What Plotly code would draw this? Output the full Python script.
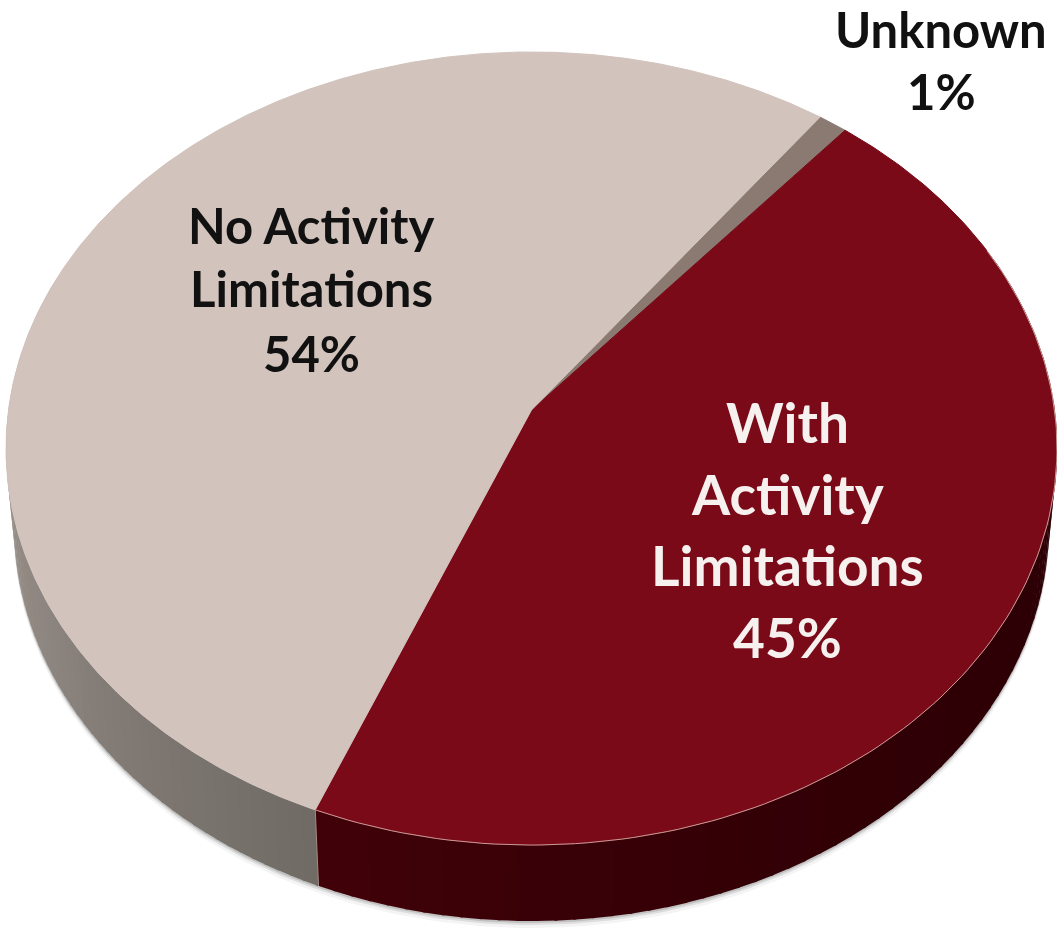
import numpy as np
import plotly.graph_objects as go

categories = ["Unknown", "With Activity Limitations", "No Activity Limitations"]
values = [1, 45, 54]
top_colors = ["#8a7a72", "#7a0a18", "#d2c3bc"]
label_lines = [["Unknown", "1%"], ["With", "Activity", "Limitations", "45%"], ["No Activity", "Limitations", "54%"]]
label_colors = ["#111111", "#f6f0ee", "#111111"]
label_x = [941, 787, 311]
label_y = [[29, 91], [422, 494, 565, 637], [225, 288, 353]]
label_sizes = [49, 55, 49]

APEX = (531.5, 410)
A, B, K = 523, 392.8, 0.0971
START = 36.5
DEPTH = 76
RIM_SCALE = 0.985


def project(theta_deg):
    t = np.radians(theta_deg)
    u, v = np.sin(t), -np.cos(t)
    w = 1 - K * v
    return APEX[0] + A * u / w, APEX[1] + B * v / w


def lower(x, y, extra=0):
    return APEX[0] + (x - APEX[0]) * RIM_SCALE, y + DEPTH + extra


def lerp(c1, c2, f):
    return "rgb(%d,%d,%d)" % tuple(c1[i] + (c2[i] - c1[i]) * f for i in range(3))


fig = go.Figure()

edges = START + np.cumsum([0] + values) * 3.6


def rim_color(i, theta):
    if i == 1:
        f = np.clip((theta - 100) / (edges[2] - 100), 0, 1)
        return lerp((45, 0, 5), (66, 2, 9), f ** 2)
    f = np.clip((theta - edges[2]) / (290 - edges[2]), 0, 1)
    return lerp((112, 107, 101), (175, 163, 157), f)


# soft shadow below the visible rim
th = np.linspace(95, 275, 200)
sx, sy = project(th)
for off, op in [(7, 0.06), (4, 0.12), (2, 0.18)]:
    lx, ly = lower(sx, sy, off)
    fig.add_trace(go.Scatter(
        x=np.r_[lx, sx[::-1]], y=np.r_[ly, sy[::-1]],
        fill="toself", mode="lines", line=dict(width=0), fillcolor=f"rgba(60,60,60,{op})",
        hoverinfo="skip", showlegend=False))

# rim bands, only the front half is visible
for i in (1, 2):
    lo, hi = max(edges[i], 90), min(edges[i + 1], 290)
    steps = np.linspace(lo, hi, 60)
    for a, b in zip(steps[:-1], steps[1:]):
        th = np.linspace(a, b + 0.3, 5)
        x, y = project(th)
        lx, ly = lower(x, y)
        fig.add_trace(go.Scatter(
            x=np.r_[x, lx[::-1]], y=np.r_[y, ly[::-1]],
            fill="toself", mode="lines", line=dict(width=0),
            fillcolor=rim_color(i, (a + b) / 2), hoverinfo="skip", showlegend=False))

# top faces
for i, cat in enumerate(categories):
    th = np.linspace(edges[i], edges[i + 1], max(4, int(values[i] * 8)))
    x, y = project(th)
    fig.add_trace(go.Scatter(
        x=np.r_[APEX[0], x, APEX[0]], y=np.r_[APEX[1], y, APEX[1]],
        fill="toself", mode="lines", line=dict(width=1, color=top_colors[i]),
        fillcolor=top_colors[i], name=cat, showlegend=False))

# pale seam along the maroon front edge and down the slice boundary
th = np.linspace(edges[1] + 25, edges[2], 120)
x, y = project(th)
fig.add_trace(go.Scatter(x=x, y=y, mode="lines", line=dict(width=1, color="#c89a96"),
                         hoverinfo="skip", showlegend=False))
bx, by = project(edges[2])
blx, bly = lower(bx, by)
fig.add_trace(go.Scatter(x=[bx, blx], y=[by, bly], mode="lines",
                         line=dict(width=1, color="#a58a86"), hoverinfo="skip", showlegend=False))

for lines, color, cx, ys, size in zip(label_lines, label_colors, label_x, label_y, label_sizes):
    for line, cy in zip(lines, ys):
        fig.add_annotation(x=cx, y=cy, text=line, showarrow=False,
                           font=dict(family="Lato", size=size, color=color, weight="bold"),
                           xanchor="center", yanchor="middle")

fig.update_layout(
    width=1057, height=932, margin=dict(l=0, r=0, t=0, b=0),
    paper_bgcolor="white", plot_bgcolor="white", showlegend=False,
    xaxis=dict(range=[0, 1057], visible=False, fixedrange=True),
    yaxis=dict(range=[932, 0], visible=False, fixedrange=True),
)
fig.write_html("out.html", config={"displayModeBar": False},
               post_script="document.body.style.margin='0';document.documentElement.style.overflow='hidden';")
